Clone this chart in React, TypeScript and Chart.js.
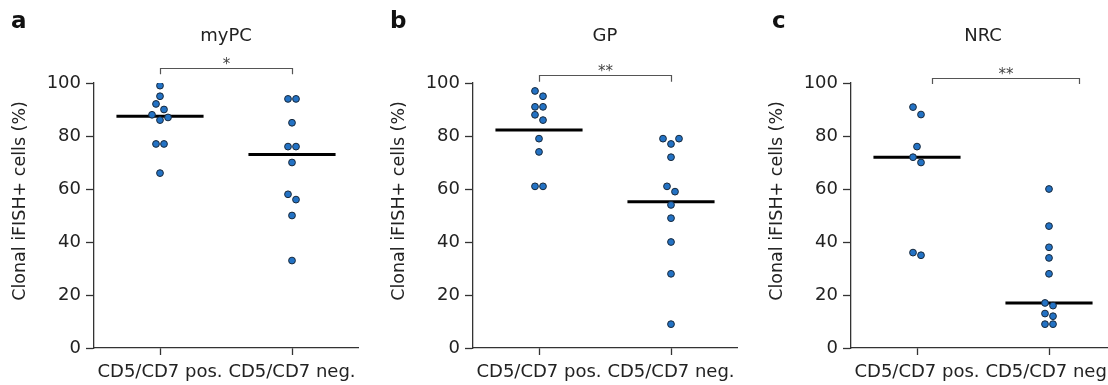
import React, { useEffect, useRef } from "react";
import { Chart, registerables } from "chart.js";

Chart.register(...registerables);

// ---------------- data ----------------
const categories = ["CD5/CD7 pos.", "CD5/CD7 neg."];
const yTickValues = [0, 20, 40, 60, 80, 100];
const yAxisTitle = "Clonal iFISH+ cells (%)";

const panelLetters = ["a", "b", "c"];
const panelTitles = ["myPC", "GP", "NRC"];

const myPCPos = [99, 95, 92.1, 90, 88, 87, 86, 77, 77, 66];
const myPCNeg = [94, 94, 85, 76, 76, 70, 58, 56, 50, 33];
const myPCCentre = [87.5, 73];

const gpPos = [97, 95, 91, 91, 88, 86, 79, 74, 61, 61];
const gpNeg = [79, 79, 77, 72, 61, 59, 54, 49, 40, 28, 9];
const gpCentre = [82.3, 55.2];

const nrcPos = [90.9, 88.1, 76, 72, 70, 36, 35];
const nrcNeg = [60, 46, 38, 34, 28, 17, 16, 13, 12, 9, 9];
const nrcCentre = [72, 17];

const sigLabels = ["*", "**", "**"];
const sigLevels = [105.7, 102.9, 102.0];
const sigFrom = [1, 1, 1.11];
const sigTo = [2, 2, 2.23];

// ---------------- layout / style ----------------
const FONT = '"DejaVu Sans", "Liberation Sans", Arial, sans-serif';
const CANVAS_W = 370;
const CANVAS_H = 385;
const AXIS_LEFT = 94;
const AXIS_RIGHT = 358;
const AXIS_TOP = 83;
const AXIS_BOTTOM = 348;
const PX_PER_UNIT = (AXIS_RIGHT - AXIS_LEFT) / 2;
const DOT_STEP_PX = 8;
const ROW_THRESHOLD = 2.85;
const CENTRE_HALF = 0.33;

function swarm(values: number[], centre: number) {
  const sorted = [...values].sort((a, b) => b - a);
  const rows: number[][] = [];
  let row: number[] = [];
  let start = 0;
  for (const v of sorted) {
    if (row.length && start - v < ROW_THRESHOLD) row.push(v);
    else {
      if (row.length) rows.push(row);
      row = [v];
      start = v;
    }
  }
  if (row.length) rows.push(row);
  const pts: { x: number; y: number }[] = [];
  for (const r of rows) {
    const n = r.length;
    const slots: number[] = [];
    for (let k = 0; k < n; k++) slots.push(k - (n - 1) / 2);
    slots.sort((a, b) => Math.abs(b) - Math.abs(a) || a - b);
    r.forEach((v, k) => {
      pts.push({ x: centre + (slots[k] * DOT_STEP_PX) / PX_PER_UNIT, y: v });
    });
  }
  return pts;
}

const decorPlugin = {
  id: "panelDecor",
  afterDraw(chart: any, _args: any, o: any) {
    const { ctx, chartArea } = chart;
    const x = chart.scales.x;
    const y = chart.scales.y;
    ctx.save();
    // panel letter
    ctx.fillStyle = "#111";
    ctx.font = `bold 23px ${FONT}`;
    ctx.textAlign = "left";
    ctx.textBaseline = "alphabetic";
    ctx.fillText(o.letter, o.letterX, 28);
    // title
    ctx.fillStyle = "#222";
    ctx.font = `18px ${FONT}`;
    ctx.textAlign = "center";
    ctx.fillText(o.title, (chartArea.left + chartArea.right) / 2, 41);
    // y axis title
    ctx.save();
    ctx.translate(20.5, 201);
    ctx.rotate(-Math.PI / 2);
    ctx.textBaseline = "middle";
    ctx.font = `17.5px ${FONT}`;
    ctx.fillText(o.yTitle, 0, 0);
    ctx.restore();
    // significance bracket
    const x1 = Math.round(x.getPixelForValue(o.sigFrom)) + 0.5;
    const x2 = Math.round(x.getPixelForValue(o.sigTo)) + 0.5;
    const yb = Math.round(y.getPixelForValue(o.sigLevel)) + 0.5;
    const yt = y.getPixelForValue(o.sigLevel - 2.4);
    ctx.strokeStyle = "#555";
    ctx.lineWidth = 1.2;
    ctx.beginPath();
    ctx.moveTo(x1, yt);
    ctx.lineTo(x1, yb);
    ctx.lineTo(x2, yb);
    ctx.lineTo(x2, yt);
    ctx.stroke();
    ctx.fillStyle = "#444";
    ctx.font = `15px ${FONT}`;
    ctx.textAlign = "center";
    ctx.textBaseline = "alphabetic";
    ctx.fillText(o.sigLabel, (x1 + x2) / 2, yb);
    ctx.restore();
  },
};

type PanelProps = {
  idx: number;
  pos: number[];
  neg: number[];
  centre: number[];
  left: number;
  letterX: number;
};

function Panel({ idx, pos, neg, centre, left, letterX }: PanelProps) {
  const ref = useRef<HTMLCanvasElement | null>(null);
  useEffect(() => {
    if (!ref.current) return;
    const dot = {
      pointRadius: 3.4,
      pointBorderWidth: 1,
      backgroundColor: "#2372c4",
      borderColor: "#18283a",
      pointBackgroundColor: "#2372c4",
      pointBorderColor: "#18283a",
      showLine: false,
      order: 0,
    };
    const bar = (cx: number, v: number) => ({
      data: [
        { x: cx - CENTRE_HALF, y: v },
        { x: cx + CENTRE_HALF, y: v },
      ],
      showLine: true,
      borderColor: "#000",
      borderWidth: 3,
      pointRadius: 0,
      order: 1,
    });
    const chart = new Chart(ref.current, {
      type: "scatter",
      data: {
        datasets: [
          { ...dot, data: swarm(pos, 1) },
          { ...dot, data: swarm(neg, 2) },
          bar(1, centre[0]),
          bar(2, centre[1]),
        ] as any,
      },
      options: {
        responsive: false,
        animation: false,
        events: [],
        layout: {
          padding: { left: 0, right: CANVAS_W - AXIS_RIGHT, top: AXIS_TOP, bottom: 0 },
        },
        plugins: {
          legend: { display: false },
          tooltip: { enabled: false },
          title: { display: false },
          panelDecor: {
            letter: panelLetters[idx],
            letterX,
            title: panelTitles[idx],
            yTitle: yAxisTitle,
            sigLabel: sigLabels[idx],
            sigLevel: sigLevels[idx],
            sigFrom: sigFrom[idx],
            sigTo: sigTo[idx],
          },
        } as any,
        scales: {
          x: {
            type: "linear",
            min: 0.5,
            max: 2.5,
            afterBuildTicks: (axis: any) => {
              axis.ticks = categories.map((_, i) => ({ value: i + 1 }));
            },
            afterFit: (scale: any) => {
              scale.height = CANVAS_H - AXIS_BOTTOM;
            },
            ticks: {
              autoSkip: false,
              maxRotation: 0,
              padding: 7,
              color: "#222",
              font: { family: FONT, size: 18 },
              callback: (v: any) => categories[Math.round(Number(v)) - 1] ?? "",
            },
            grid: {
              drawOnChartArea: false,
              drawTicks: true,
              tickLength: 7,
              tickColor: "#333",
              tickWidth: 1.3,
            },
            border: { display: true, color: "#333", width: 1.3 },
          },
          y: {
            type: "linear",
            min: 0,
            max: 100,
            afterBuildTicks: (axis: any) => {
              axis.ticks = yTickValues.map((v) => ({ value: v }));
            },
            afterFit: (scale: any) => {
              scale.width = AXIS_LEFT;
            },
            ticks: {
              padding: 5,
              color: "#222",
              font: { family: FONT, size: 18 },
            },
            grid: {
              drawOnChartArea: false,
              drawTicks: true,
              tickLength: 8,
              tickColor: "#333",
              tickWidth: 1.3,
            },
            border: { display: true, color: "#333", width: 1.3 },
          },
        },
      },
      plugins: [decorPlugin as any],
    });
    return () => chart.destroy();
  }, [idx, pos, neg, centre, letterX]);
  return (
    <canvas
      ref={ref}
      width={CANVAS_W}
      height={CANVAS_H}
      style={{ position: "absolute", left, top: 0, width: CANVAS_W, height: CANVAS_H }}
    />
  );
}

export default function App() {
  return (
    <div
      style={{
        position: "absolute",
        left: 0,
        top: 0,
        width: 1108,
        height: 385,
        overflow: "hidden",
        background: "#fff",
      }}
    >
      <Panel idx={0} pos={myPCPos} neg={myPCNeg} centre={myPCCentre} left={0} letterX={11} />
      <Panel idx={1} pos={gpPos} neg={gpNeg} centre={gpCentre} left={379} letterX={11} />
      <Panel idx={2} pos={nrcPos} neg={nrcNeg} centre={nrcCentre} left={757} letterX={15} />
    </div>
  );
}
